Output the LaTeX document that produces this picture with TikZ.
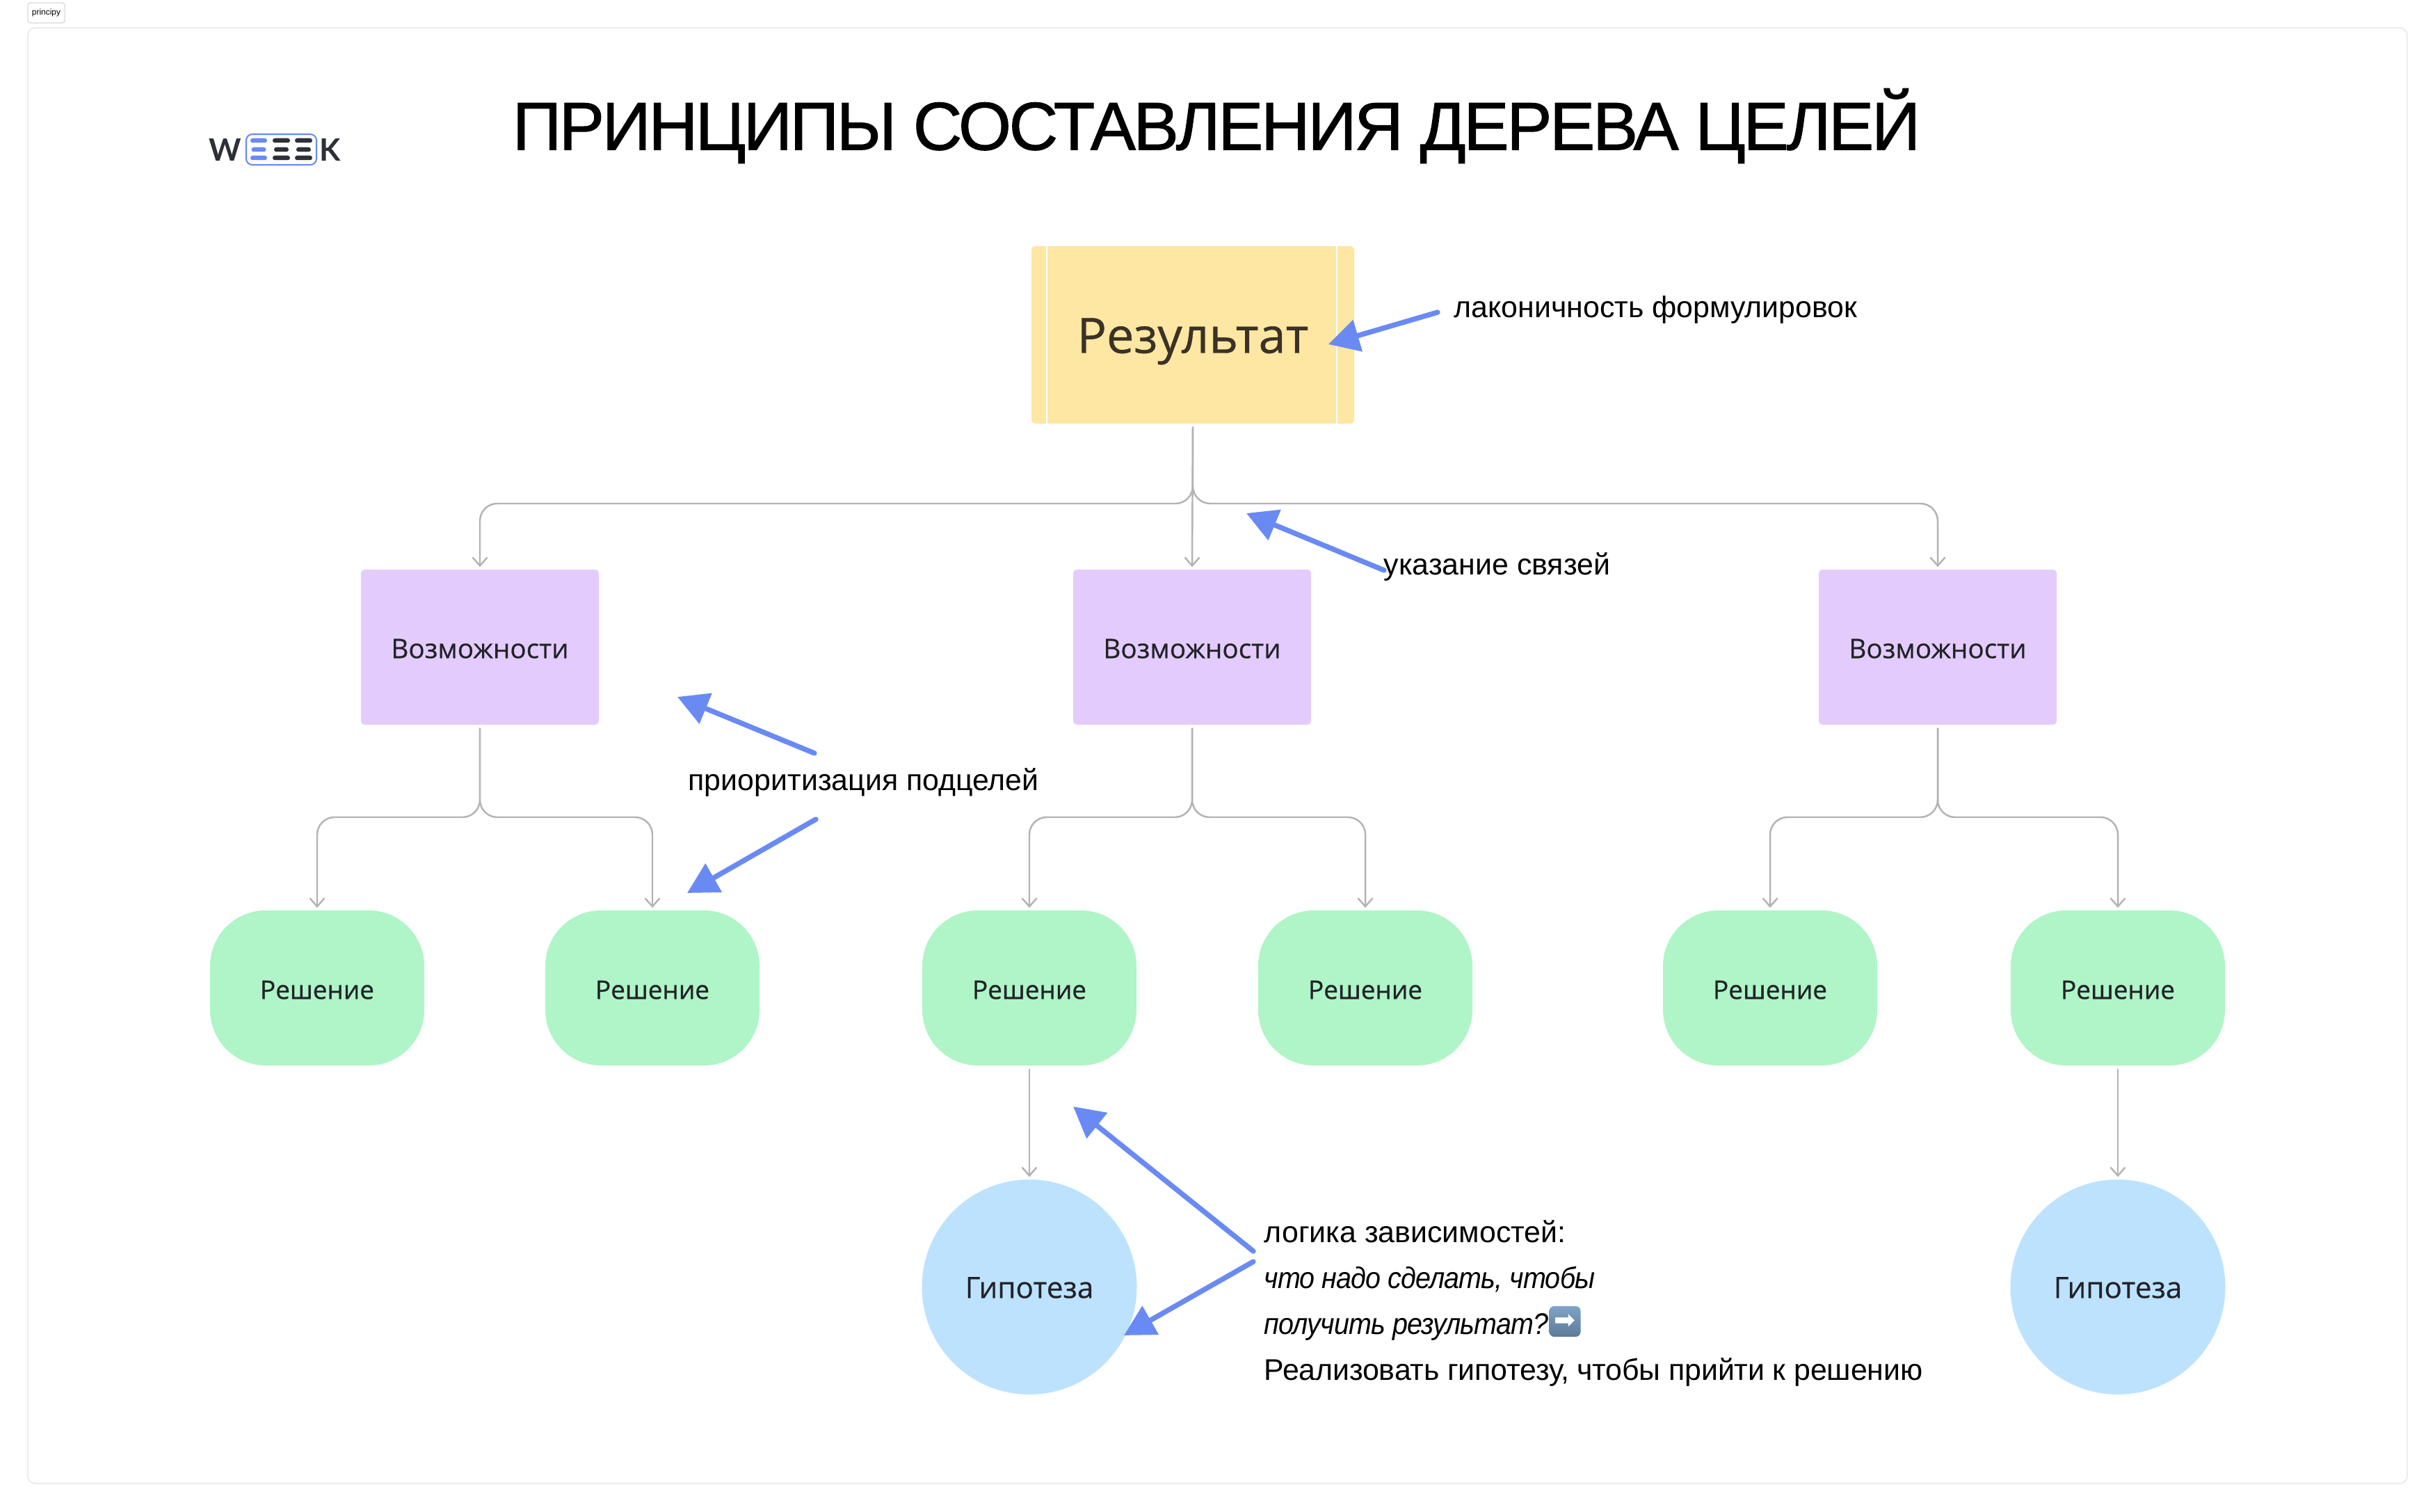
\documentclass[tikz,border=0pt]{standalone}
\usepackage{fontspec}
\usepackage {tikz}
\usetikzlibrary {arrows.meta}
\setmainfont{Liberation Sans}
\newfontfamily\titlefont[FakeBold=1,LetterSpace=-3.4]{Liberation Sans}
\newfontfamily\noteitalic[FakeStretch=0.92,LetterSpace=-2]{Liberation Sans Italic}
\newfontfamily\noteplain[LetterSpace=-0.4]{Liberation Sans}
\newfontfamily\boxfont[FakeBold=0.5]{Open Sans}
\newfontfamily\solfont[FakeBold=0.8]{Open Sans}
\newfontfamily\logofont{Lato}
\newfontfamily\arrowfont{DejaVu Sans}
\definecolor {resultyellow}{HTML}{FEE6A3}
\definecolor {resulttext}{HTML}{3A3226}
\definecolor {oppviolet}{HTML}{E3CCFD}
\definecolor {solgreen}{HTML}{AFF5C7}
\definecolor {hypblue}{HTML}{BDE2FE}
\definecolor {linkgrey}{HTML}{B3B3B3}
\definecolor {notecolor}{HTML}{6A8AF3}
\definecolor {logodark}{HTML}{2D3038}
\definecolor {boxtext}{HTML}{222228}
\definecolor {emojitop}{HTML}{7FA4C8}
\definecolor {emojibottom}{HTML}{5C7A96}

\begin{document}
\begin{tikzpicture}
  \useasboundingbox (0,0) rectangle (35.01,-21.74);
  \tikzstyle{result}=[rectangle, rounded corners=1.5pt, fill=resultyellow, text=resulttext,
minimum width=4.64cm, minimum height=2.55cm, text height=0.8cm, text depth=0.28cm, font=\boxfont\fontsize{20}{24}\selectfont]
  \tikzstyle{opp}=[rectangle, rounded corners=1.5pt, fill=oppviolet, text=boxtext, text height=0.45cm, text depth=0.134cm,
minimum width=3.42cm, minimum height=2.23cm, font=\boxfont\fontsize{11}{13}\selectfont]
  \tikzstyle{sol}=[rectangle, rounded corners=0.8cm, fill=solgreen, text=boxtext, text height=0.45cm, text depth=0.134cm,
minimum width=3.08cm, minimum height=2.23cm, font=\solfont\fontsize{10.5}{13}\selectfont]
  \tikzstyle{hyp}=[circle, fill=hypblue, text=boxtext, inner sep=0pt, text height=0.45cm, text depth=0.134cm,
minimum width=3.09cm, font=\boxfont\fontsize{12}{14}\selectfont]
  \tikzstyle{link}=[draw=linkgrey, line width=0.7pt, rounded corners=0.25cm, shorten <=0.04cm, shorten >=0.03cm,
-{Straight Barb[length=0.12cm,width=0.21cm]}]
  \tikzstyle{note}=[draw=notecolor, line width=2.1pt, line cap=round,
-{Triangle[length=0.44cm,width=0.46cm,fill=notecolor]}]
  \tikzstyle{notetext}=[inner sep=0pt, anchor=west, font=\fontsize{12.2}{18.8}\selectfont]
  \tikzstyle{bar}=[rectangle, rounded corners=0.9pt, inner sep=0pt, minimum height=0.065cm]

  % board
  \node[draw=black!7, rounded corners=3pt, line width=0.6pt, minimum width=34.21cm, minimum height=20.93cm,
inner sep=0pt] (board) at (17.505,-10.865) {};
  \node[draw=black!15, rounded corners=1pt, line width=0.4pt, inner sep=0pt, minimum width=0.53cm,
minimum height=0.29cm, font=\fontsize{3.4}{4}\selectfont] (tag) at (0.665,-0.185) {principy};

  % logo
  \node[text=logodark, inner sep=0pt, font=\logofont\bfseries\fontsize{12.6}{14}\selectfont] (logo_w) at (3.235,-2.15) {W};
  \node[text=logodark, inner sep=0pt, font=\logofont\bfseries\fontsize{12.6}{14}\selectfont] (logo_k) at (4.75,-2.15) {K};
  \node[draw=notecolor, rounded corners=2.5pt, line width=0.6pt, minimum width=1.01cm, minimum height=0.44cm,
inner sep=0pt] (logo_box) at (4.045,-2.15) {};
  \foreach \x/\w/\y/\c in {3.72/0.24/2.02/notecolor, 3.72/0.21/2.15/notecolor, 3.72/0.24/2.27/notecolor,
4.045/0.25/2.02/logodark, 4.045/0.21/2.15/logodark, 4.045/0.25/2.27/logodark,
4.365/0.25/2.02/logodark, 4.365/0.21/2.15/logodark, 4.365/0.25/2.27/logodark}
    \node[bar, fill=\c, minimum width=\w cm] at (\x,-\y) {};

  % title
  \node[inner sep=0pt, font=\titlefont\fontsize{27.8}{32}\selectfont] (title) at (17.49,-1.81) {ПРИНЦИПЫ СОСТАВЛЕНИЯ ДЕРЕВА ЦЕЛЕЙ};

  % tree
  \node[result] (R_1) at (17.15,-4.815) {Результат};
  \node[opp] (O_1) at (6.90,-9.305) {Возможности};
  \node[opp] (O_2) at (17.14,-9.305) {Возможности};
  \node[opp] (O_3) at (27.86,-9.305) {Возможности};
  \node[sol] (S_1) at (4.56,-14.205) {Решение};
  \node[sol] (S_2) at (9.38,-14.205) {Решение};
  \node[sol] (S_3) at (14.80,-14.205) {Решение};
  \node[sol] (S_4) at (19.63,-14.205) {Решение};
  \node[sol] (S_5) at (25.45,-14.205) {Решение};
  \node[sol] (S_6) at (30.45,-14.205) {Решение};
  \node[hyp] (H_1) at (14.80,-18.505) {Гипотеза};
  \node[hyp] (H_2) at (30.45,-18.505) {Гипотеза};
  \draw[white, line width=0.6pt] (15.05,-3.54) -- (15.05,-6.09);
  \draw[white, line width=0.6pt] (19.22,-3.54) -- (19.22,-6.09);

  \coordinate (J_1) at (6.90,-7.24);
  \coordinate (J_3) at (27.86,-7.24);
  \coordinate (K_1) at (4.56,-11.75);
  \coordinate (K_2) at (9.38,-11.75);
  \coordinate (K_3) at (14.80,-11.75);
  \coordinate (K_4) at (19.63,-11.75);
  \coordinate (K_5) at (25.45,-11.75);
  \coordinate (K_6) at (30.45,-11.75);

  \draw[link] (R_1.south) |- (J_1) -- (O_1.north);
  \draw[link] (R_1.south) -- (O_2.north);
  \draw[link] (R_1.south) |- (J_3) -- (O_3.north);
  \draw[link] (O_1.south) |- (K_1) -- (S_1.north);
  \draw[link] (O_1.south) |- (K_2) -- (S_2.north);
  \draw[link] (O_2.south) |- (K_3) -- (S_3.north);
  \draw[link] (O_2.south) |- (K_4) -- (S_4.north);
  \draw[link] (O_3.south) |- (K_5) -- (S_5.north);
  \draw[link] (O_3.south) |- (K_6) -- (S_6.north);
  \draw[link] (S_3.south) -- (H_1.north);
  \draw[link] (S_6.south) -- (H_2.north);

  % notes
  \node[notetext] (N_1) at (20.90,-4.45) {лаконичность формулировок};
  \node[notetext] (N_2) at (19.89,-8.15) {указание связей};
  \node[notetext] (N_3) at (9.89,-11.25) {приоритизация подцелей};
  \node[notetext, align=left] (N_4) at (18.17,-18.74) {логика зависимостей:\\{\noteitalic что надо сделать, чтобы}\\{\noteitalic получить результат?}\\{\noteplain Реализовать гипотезу, чтобы прийти к решению}};
  \node[top color=emojitop, bottom color=emojibottom, rounded corners=2pt, text=white, inner sep=0pt, minimum width=0.45cm,
minimum height=0.44cm, font=\arrowfont\fontsize{10.5}{11}\selectfont] (emoji) at (22.50,-19.00) {➡};

  \coordinate (A_1) at (20.67,-4.49);
  \coordinate (B_1) at (19.10,-4.95);
  \coordinate (A_2) at (19.90,-8.20);
  \coordinate (B_2) at (17.92,-7.38);
  \coordinate (A_3) at (11.71,-10.83);
  \coordinate (B_3) at (9.74,-10.02);
  \coordinate (A_4) at (11.73,-11.78);
  \coordinate (B_4) at (9.88,-12.84);
  \coordinate (A_5) at (18.02,-17.99);
  \coordinate (B_5) at (15.43,-15.91);
  \coordinate (A_6) at (18.02,-18.14);
  \coordinate (B_6) at (16.16,-19.20);

  \draw[note] (A_1) -- (B_1);
  \draw[note] (A_2) -- (B_2);
  \draw[note] (A_3) -- (B_3);
  \draw[note] (A_4) -- (B_4);
  \draw[note] (A_5) -- (B_5);
  \draw[note] (A_6) -- (B_6);
\end{tikzpicture}
\end{document}
